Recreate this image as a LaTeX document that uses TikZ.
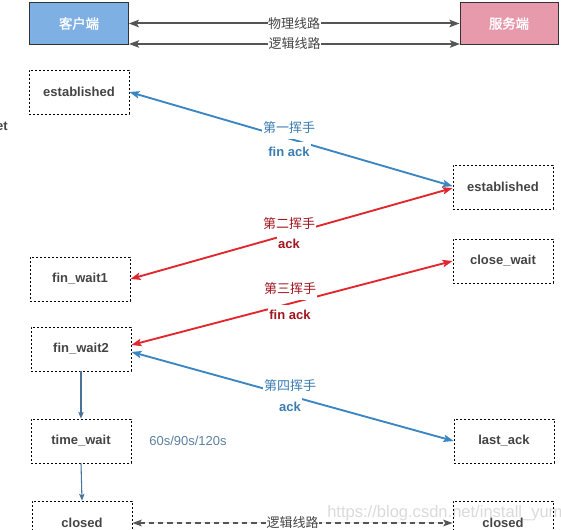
\documentclass[tikz,border=0pt]{standalone}
\usepackage{fontspec}
\setmainfont{Liberation Sans}
\newfontfamily\cjk{Noto Sans CJK SC}
\newfontfamily\cjkb[FakeBold=1.5]{Noto Sans CJK SC}
\usetikzlibrary{arrows.meta}
\definecolor{boxtext}{HTML}{444444}
\definecolor{cliblue}{HTML}{7EB0E4}
\definecolor{srvpink}{HTML}{E89AAD}
\definecolor{arrblue}{HTML}{3A86C2}
\definecolor{lblblue}{HTML}{3B7CB3}
\definecolor{arrred}{HTML}{E2262D}
\definecolor{lblred}{HTML}{A2161F}
\definecolor{vblue}{HTML}{4A7399}
\definecolor{topgray}{HTML}{555555}
\definecolor{tmblue}{HTML}{5A80A3}
\definecolor{wmgray}{HTML}{DADADA}
\tikzset{
  endbox/.style={draw=black!80, line width=0.7pt, minimum width=74pt, minimum height=32pt,
    inner sep=0pt, text=white, font=\fontsize{10}{12}\selectfont\cjkb},
  state/.style={draw=black, dash pattern=on 1.6pt off 1.4pt, line width=0.6pt,
    minimum width=75pt, minimum height=33pt, inner sep=0pt, text=boxtext,
    font=\fontsize{9.75}{11.7}\selectfont\bfseries},
  dtip/.style={{Stealth[length=7.5pt,width=5.5pt,inset=1.5pt]}-{Stealth[length=7.5pt,width=5.5pt,inset=1.5pt]}},
  bluearr/.style={draw=arrblue, fill=arrblue, line width=1.4pt},
  redarr/.style={draw=arrred, fill=arrred, line width=1.4pt},
  toparr/.style={draw=topgray, fill=topgray, line width=1.5pt,
    {Stealth[length=7.5pt,width=5.5pt,inset=1.5pt]}-{Stealth[length=7.5pt,width=5.5pt,inset=1.5pt]}},
  varr/.style={draw=vblue, fill=vblue, line width=0.8pt, -{Stealth[length=5pt,width=4pt,inset=1pt]}},
  toplbl/.style={fill=white, inner xsep=0.5pt, inner ysep=0.5pt, text=boxtext,
    font=\fontsize{9.75}{11.7}\selectfont\cjk},
  blbl/.style={fill=white, inner xsep=1pt, inner ysep=4pt, text=lblblue},
  rlbl/.style={fill=white, inner xsep=1pt, inner ysep=4pt, text=lblred},
  cjklbl/.style={font=\fontsize{9.75}{11.7}\selectfont\cjk},
  enlbl/.style={font=\fontsize{9.75}{11.7}\selectfont\bfseries},
}
\begin{document}
\begin{tikzpicture}[x=0.75pt,y=-0.75pt]
\useasboundingbox (0,0) rectangle (561,530);
% watermark
\node[anchor=west, text=wmgray, inner sep=0pt, font=\fontsize{12.4}{15}\selectfont] (wm) at (327,513) {https://blog.csdn.net/install\_yum};
% left-edge fragment
\node[anchor=east, inner sep=0pt, text=boxtext, font=\fontsize{9.75}{11.7}\selectfont\bfseries] (frag) at (8,126) {et};

% end points
\node[endbox, fill=cliblue] (cli) at (79,23.5) {客户端};
\node[endbox, fill=srvpink, minimum width=73.5pt] (srv) at (509,23.5) {服务端};
\coordinate (l1a) at (129,44);
\coordinate (l1b) at (460,44);
\draw[toparr] (cli.east) -- (srv.west) node[toplbl, midway] (phy) {物理线路};
\draw[toparr] (l1a) -- (l1b) node[toplbl, midway] (logi) {逻辑线路};

% states
\node[state] (est1) at (79,92) {established};
\node[state] (est2) at (503,187) {established};
\node[state] (fw1) at (80,279) {fin\_wait1};
\node[state] (cw) at (503,261) {close\_wait};
\node[state] (fw2) at (81,349) {fin\_wait2};
\node[state] (tw) at (81,441) {time\_wait};
\node[state] (la) at (504,441) {last\_ack};
\node[state] (cl1) at (82,523) {closed};
\node[state] (cl2) at (503,523) {closed};

% handshakes
\draw[bluearr, dtip] ([yshift=0.6pt]est2.west) -- (est1.east);
\node[blbl, cjklbl] (h1a) at (289,128) {第一挥手};
\node[blbl, enlbl] (h1b) at (289,152) {fin ack};

\draw[redarr, dtip] ([yshift=-0.8pt]est2.west) -- (fw1.east);
\node[rlbl, cjklbl] (h2a) at (289,224) {第二挥手};
\node[rlbl, enlbl] (h2b) at (289,244) {ack};

\draw[redarr, dtip] ([yshift=3pt]fw2.east) -- (cw.west);
\node[rlbl, cjklbl] (h3a) at (290,289) {第三挥手};
\node[rlbl, enlbl] (h3b) at (290,315) {fin ack};

\draw[bluearr, dtip] ([yshift=-2.2pt]fw2.east) -- (la.west);
\node[blbl, cjklbl] (h4a) at (290,386) {第四挥手};
\node[blbl, enlbl] (h4b) at (290,407) {ack};

% client side transitions
\draw[varr] (fw2.south) -- (tw.north);
\draw[varr] (tw.south) -- (cl1.north);
\node[text=tmblue, inner sep=0pt, font=\fontsize{9.75}{11.7}\selectfont] (tmo) at (188,441) {60s/90s/120s};

% logical line at the bottom
\draw[draw=topgray, fill=topgray, line width=1.2pt, dash pattern=on 4pt off 3pt,
  {Stealth[length=7pt,width=5pt,inset=1.5pt]}-{Stealth[length=7pt,width=5pt,inset=1.5pt]}]
  (cl1.east) -- (cl2.west) node[toplbl, midway] (logi2) {逻辑线路};
\end{tikzpicture}
\end{document}
